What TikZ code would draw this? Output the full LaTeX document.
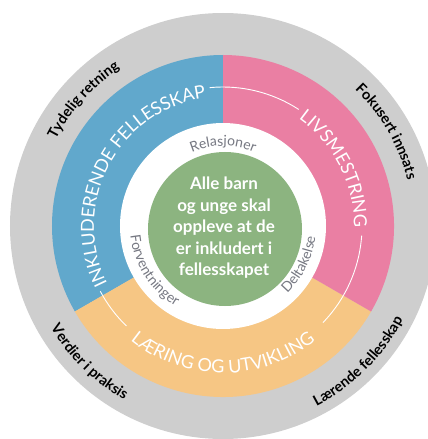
\documentclass[tikz,border=0pt]{standalone}
\usepackage{fontspec}
\setmainfont{Lato}
\usepackage{tikz}
\usetikzlibrary{decorations.text}

\definecolor{ringblue}{RGB}{97,168,204}
\definecolor{ringpink}{RGB}{234,127,163}
\definecolor{ringorange}{RGB}{246,198,132}
\definecolor{coregreen}{RGB}{140,180,128}
\definecolor{rimgray}{RGB}{206,206,206}
\definecolor{labelgray}{RGB}{118,120,130}

\newcommand{\ringfont}{\fontsize{18}{18}\selectfont\color{white}}
\newcommand{\innerfont}{\fontsize{14}{14}\selectfont\color{labelgray}}
\newcommand{\rimfont}{\fontsize{14.5}{14.5}\selectfont\bfseries\color{black}}

\begin{document}
\begin{tikzpicture}[along/.style={decorate,decoration={text along path,text align=center,text={#1}}},
	link/.style={white,line width=0.9pt}]
	\useasboundingbox (-223pt,-213pt) rectangle (205pt,226pt);
	\fill[rimgray] (0,0) circle[radius=213pt];

	\fill[ringblue] (0,0) -- (90:171pt) arc[start angle=90,end angle=210,radius=171pt] -- cycle;
	\fill[ringorange] (0,0) -- (210:171pt) arc[start angle=210,end angle=330,radius=171pt] -- cycle;
	\fill[ringpink] (0,0) -- (330:171pt) arc[start angle=-30,end angle=90,radius=171pt] -- cycle;
	\fill[white] (0,0) circle[radius=103pt];
	\fill[coregreen] (2pt,-3pt) circle[radius=77pt];

	\node[white,font=\fontsize{17}{21.5}\selectfont\bfseries,align=center] (goal) at (1pt,-2pt)
		{Alle barn\\og unge skal\\oppleve at de\\er inkludert i\\fellesskapet};

	\path[along={|\ringfont|INKLUDERENDE FELLESSKAP}] (215:129pt) arc[start angle=215,end angle=89,radius=129pt];
	\path[along={|\ringfont|LIVSMESTRING}] (60:131pt) arc[start angle=60,end angle=-6,radius=131pt];
	\path[along={|\ringfont|LÆRING OG UTVIKLING}] (222:147pt) arc[start angle=222,end angle=318,radius=147pt];

	\draw[link] (95.5:139pt) arc[start angle=95.5,end angle=57,radius=139pt];
	\draw[link] (-4:139pt) arc[start angle=-4,end angle=-44,radius=139pt];
	\draw[link] (208:139pt) arc[start angle=208,end angle=226,radius=139pt];

	\path[along={|\innerfont|Relasjoner}] (135:80pt) arc[start angle=135,end angle=45,radius=80pt];
	\path[along={|\innerfont|Forventninger}] (170:93pt) arc[start angle=170,end angle=255,radius=93pt];
	\path[along={|\innerfont|Deltakelse}] (-72:93pt) arc[start angle=-72,end angle=19,radius=93pt];

	\path[along={|\rimfont|Tydelig retning}] (170:188pt) arc[start angle=170,end angle=106,radius=188pt];
	\path[along={|\rimfont|Fokusert innsats}] (62:190pt) arc[start angle=62,end angle=-2,radius=190pt];
	\path[along={|\rimfont|Verdier i praksis}] (195:200pt) arc[start angle=195,end angle=256,radius=200pt];
	\path[along={|\rimfont|Lærende fellesskap}] (280:203pt) arc[start angle=280,end angle=350,radius=203pt];
\end{tikzpicture}
\end{document}
